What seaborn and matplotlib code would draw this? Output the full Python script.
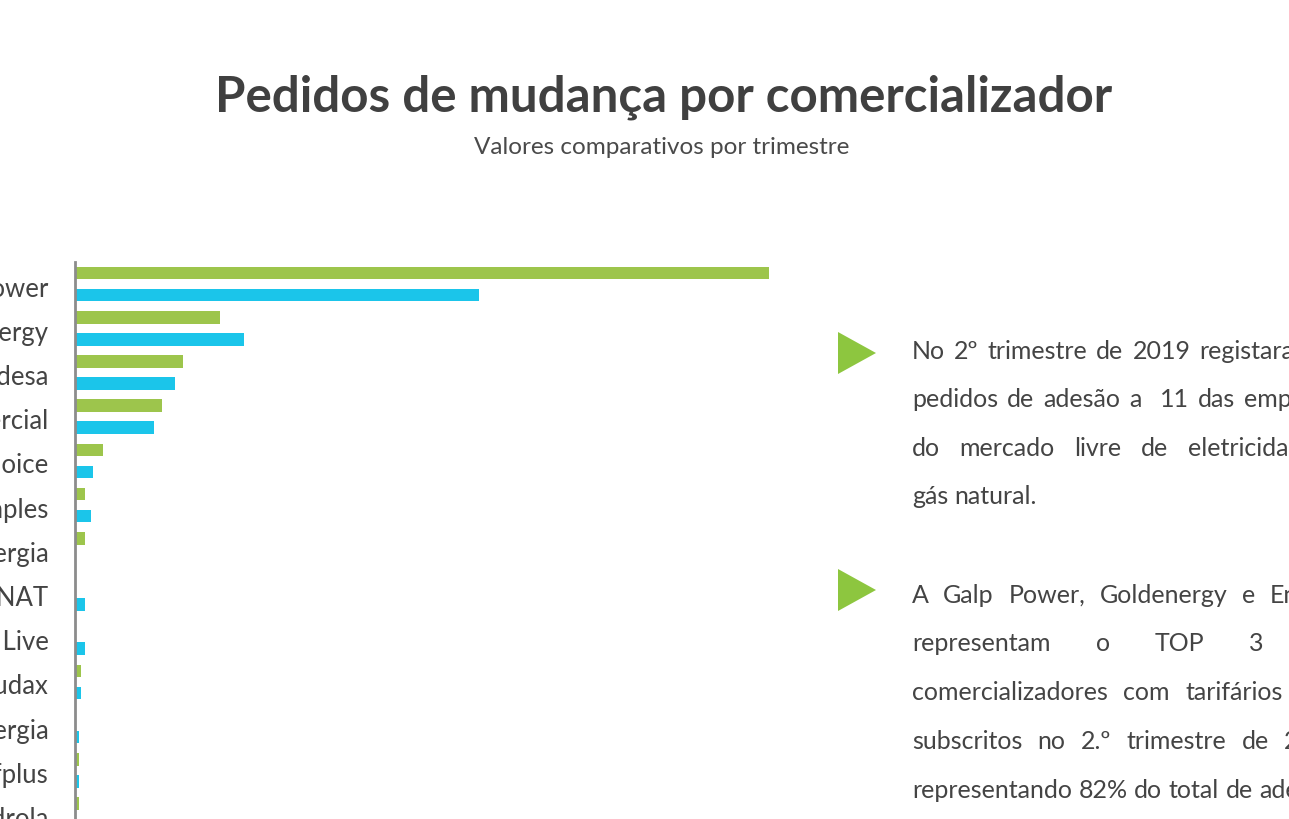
import matplotlib
matplotlib.use("Agg")
import matplotlib.pyplot as plt
import matplotlib.transforms as mtransforms
import seaborn as sns
import pandas as pd
from matplotlib.patches import Polygon

# dados
comercializadores = ["Galp Power", "Goldenergy", "Endesa", "EDP Comercial", "Energy Choice",
                     "Energia Simples", "Alfa Energia", "ENAT", "Energia Live", "Audax",
                     "PH Energia", "Jafplus", "Iberdrola"]
pedidos_t1 = [6940, 1450, 1080, 870, 280, 100, 100, 0, 0, 60, 0, 40, 40]
pedidos_t2 = [4040, 1690, 1000, 790, 180, 160, 0, 100, 100, 60, 40, 40, 30]
trimestres = ["1.º trimestre 2019", "2.º trimestre 2019"]
cores = ["#9dc54c", "#1bc5ea"]

titulo = "Pedidos de mudança por comercializador"
subtitulo = "Valores comparativos por trimestre"
paragrafos = [
    ["No 2º trimestre de 2019 registaram-se",
     "pedidos de adesão a  11 das empresas",
     "do mercado livre de eletricidade e",
     "gás natural."],
    ["A Galp Power, Goldenergy e Endesa",
     "representam o TOP 3 dos",
     "comercializadores com tarifários mais",
     "subscritos no 2.º trimestre de 2019,",
     "representando 82% do total de adesões."],
]

df = pd.DataFrame({
    "comercializador": comercializadores * 2,
    "pedidos": pedidos_t1 + pedidos_t2,
    "trimestre": [trimestres[0]] * len(comercializadores) + [trimestres[1]] * len(comercializadores),
})

sns.set_style("white")
plt.rcParams["font.family"] = ["Lato", "DejaVu Sans"]

W, H = 1289, 820
fig = plt.figure(figsize=(W / 100, H / 100), dpi=100)

# eixo que continua para lá do fundo da figura (imagem cortada)
topo, passo = 263, 44.2
altura = passo * len(comercializadores)
ax = fig.add_axes([75 / W, (H - topo - altura) / H, 715 / W, altura / H])
sns.barplot(data=df, y="comercializador", x="pedidos", hue="trimestre",
            hue_order=trimestres, palette=cores, saturation=1, orient="h",
            width=1.0, gap=0.43, linewidth=0, errorbar=None, legend=False, ax=ax)
ax.set_xlim(0, 7150)
ax.set_xlabel("")
ax.set_ylabel("")
ax.set_xticks([])
for s in ["top", "right", "bottom"]:
    ax.spines[s].set_visible(False)
ax.spines["left"].set_color("#8c8c8c")
ax.spines["left"].set_linewidth(2)
ax.tick_params(axis="y", length=0, pad=19, labelsize=18.5, labelcolor="#444444")
desce = mtransforms.ScaledTranslation(0, -4 / 100, fig.dpi_scale_trans)
for t in ax.get_yticklabels():
    t.set_va("center")
    t.set_transform(t.get_transform() + desce)

fig.text(664 / W, 1 - 97 / H, titulo, ha="center", va="center",
         fontsize=35.5, fontweight="bold", color="#404040")
fig.text(662 / W, 1 - 148 / H, subtitulo, ha="center", va="center",
         fontsize=17.5, color="#4a4a4a")

# texto justificado à direita
r = fig.canvas.get_renderer()
x0, largura, fs = 912, 436, 18
espaco = fs * 100 / 72 * 0.26
bases = [[359, 407, 456, 504], [603, 651, 700, 749, 798]]
triang = [354, 591]
for par, ys, yt in zip(paragrafos, bases, triang):
    fig.add_artist(Polygon([(838 / W, 1 - (yt - 21) / H), (838 / W, 1 - (yt + 21) / H),
                            (876 / W, 1 - yt / H)], closed=True,
                           transform=fig.transFigure, color="#8dc63f", lw=0))
    for i, (linha, y) in enumerate(zip(par, ys)):
        palavras = linha.split(" ")
        textos = [fig.text(0, 1 - y / H, p, fontsize=fs, color="#444444", va="baseline")
                  for p in palavras]
        larg = [t.get_window_extent(r).width for t in textos]
        ultima = i == len(par) - 1
        if ultima or len(palavras) == 1:
            g = espaco
        else:
            g = (largura - sum(larg)) / (len(palavras) - 1)
        x = x0
        for t, w in zip(textos, larg):
            t.set_x(x / W)
            x += w + g

fig.savefig("out.png", dpi=100)
